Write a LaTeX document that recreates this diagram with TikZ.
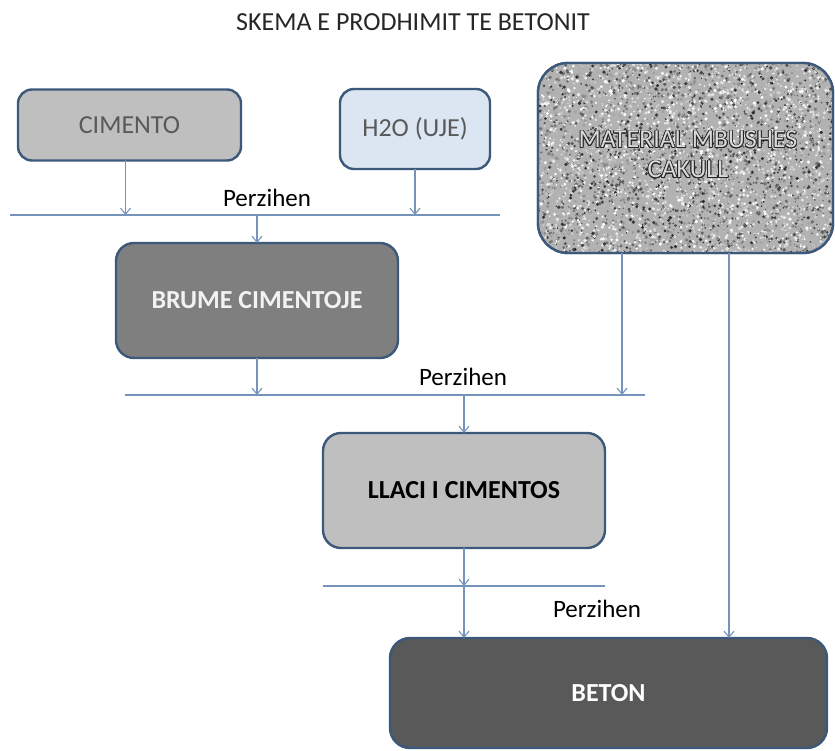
\documentclass[tikz,border=0pt]{standalone}
\usepackage{fontspec}
\setmainfont{Carlito}
\usepackage{contour}
\contourlength{0.8pt}
\usetikzlibrary{arrows.meta,calc}
\definecolor{bordc}{RGB}{60,88,122}
\definecolor{linec}{RGB}{118,148,186}
\definecolor{lgray}{RGB}{191,191,191}
\definecolor{mgray}{RGB}{127,127,127}
\definecolor{dgray}{RGB}{89,89,89}
\definecolor{lblue}{RGB}{220,230,242}
\definecolor{txtgray}{RGB}{89,89,89}
\tikzset{
  box/.style={draw=bordc, line width=2.4pt, rounded corners=14pt, inner sep=0pt, outer sep=0pt, align=center, font=\fontsize{26}{30}\selectfont},
  arr/.style={draw=linec, line width=1.1pt, -{Straight Barb[length=6pt,width=10pt]}},
  bar/.style={draw=linec, line width=1.1pt},
  lbl/.style={font=\fontsize{25}{30}\selectfont, text=black, inner sep=0pt},
}
\begin{document}
\begin{tikzpicture}[x=1pt,y=-1pt]
\useasboundingbox (0,0) rectangle (835,751);
\fill[white] (0,0) rectangle (835,751);

\node[lbl, font=\fontsize{26}{30}\selectfont, text=black!85] (title) at (413,22) {SKEMA E PRODHIMIT TE BETONIT};

% boxes
\node[box, fill=lgray, text=txtgray, minimum width=223pt, minimum height=71pt] (cim) at (129.5,125) {CIMENTO};
\node[box, fill=lblue, text=txtgray, minimum width=150pt, minimum height=80pt] (h2o) at (415,129) {H2O (UJE)};
\node[box, fill=mgray, text=white!95!black, font=\fontsize{26}{30}\selectfont\bfseries, minimum width=282pt, minimum height=115pt, rounded corners=18pt] (brume) at (257,300.5) {BRUME CIMENTOJE};
\node[box, fill=lgray, text=black, font=\fontsize{26}{30}\selectfont\bfseries, minimum width=282pt, minimum height=115pt, rounded corners=18pt] (llaci) at (464,490.5) {LLACI I CIMENTOS};
\node[box, fill=dgray, text=white, font=\fontsize{26}{30}\selectfont\bfseries, minimum width=437pt, minimum height=110pt, rounded corners=20pt] (beton) at (608.5,693) {BETON};

% gravel box
\node[box, minimum width=295pt, minimum height=190pt, rounded corners=30pt] (grav) at (685.5,158) {};
\begin{scope}
\clip[rounded corners=30pt] (grav.north west) rectangle (grav.south east);
\fill[black!30] (grav.north west) rectangle (grav.south east);
\pgfmathsetseed{7}
\foreach \i in {1,...,5200}{
  \pgfmathsetmacro\px{538+296*rnd}
  \pgfmathsetmacro\py{63+191*rnd}
  \pgfmathsetmacro\pr{0.6+1.3*rnd}
  \pgfmathsetmacro\pg{int(85*rnd^1.4)}
  \fill[black!\pg] (\px,\py) circle (\pr);
}
\end{scope}
\draw[draw=bordc, line width=2.4pt, rounded corners=30pt] (grav.north west) rectangle (grav.south east);
\node[font=\fontsize{26}{30}\selectfont, align=center, inner sep=0pt] (gravtxt) at (688,155) {\contour{black!85}{\color{black!15}MATERIAL MBUSHES}\\[0pt]\contour{black!85}{\color{black!15}CAKULL}};

% mixing bars
\coordinate (b1l) at (10,215);
\coordinate (b1r) at (500,215);
\coordinate (b2l) at (125,395);
\coordinate (b2r) at (645,395);
\coordinate (b3l) at (323,586);
\coordinate (b3r) at (605,586);
\draw[bar] (b1l) -- (b1r);
\draw[bar] (b2l) -- (b2r);
\draw[bar] (b3l) -- (b3r);

% arrows
\draw[arr] ([xshift=-4pt]cim.south) -- ([xshift=-4pt]cim.south |- b1l);
\draw[arr] (h2o.south) -- (h2o.south |- b1l);
\draw[arr] (brume.north |- b1l) -- (brume.north);
\draw[arr] (brume.south) -- (brume.south |- b2l);
\draw[arr] ([xshift=-63.5pt]grav.south) -- ([xshift=-63.5pt]grav.south |- b2l);
\draw[arr] (llaci.north |- b2l) -- (llaci.north);
\draw[arr] (llaci.south) -- (llaci.south |- b3l);
\draw[arr] (llaci.south |- b3l) -- (llaci.south |- beton.north);
\draw[arr] ([xshift=43.5pt]grav.south) -- ([xshift=43.5pt]grav.south |- beton.north);

% labels
\node[lbl] (p1) at (267,198) {Perzihen};
\node[lbl] (p2) at (463,377) {Perzihen};
\node[lbl] (p3) at (597,609) {Perzihen};
\end{tikzpicture}
\end{document}
